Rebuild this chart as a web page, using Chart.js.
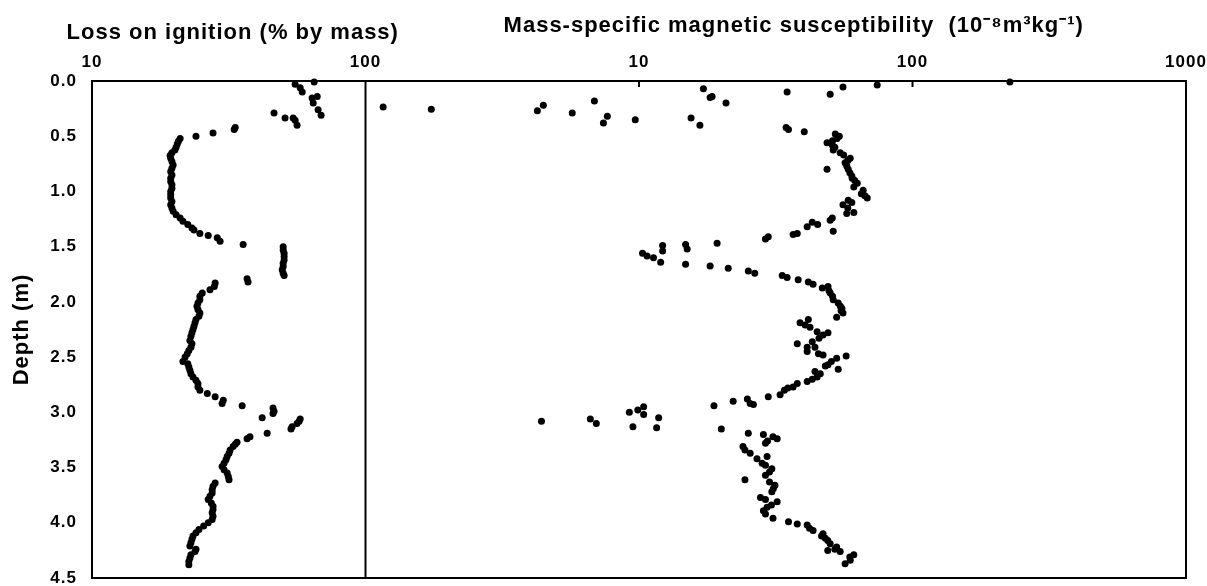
<!DOCTYPE html>
<html><head><meta charset="utf-8">
<script src="https://cdn.jsdelivr.net/npm/chart.js@4.4.1/dist/chart.umd.min.js"></script>
<style>html,body{margin:0;padding:0;background:#fff;overflow:hidden}#wrap{width:1207px;height:586px;position:relative}canvas{display:block}</style>
</head><body><div id="wrap"><canvas id="c" width="1207" height="586"></canvas></div>
<script>
const lossTitle = 'Loss on ignition (% by mass)';
const magTitle = 'Mass-specific magnetic susceptibility  (10\u207B\u2078m\u00B3kg\u207B\u00B9)';
const depthTitle = 'Depth (m)';
const lossTicks = [10, 100];
const magTicks = [10, 100, 1000];
const depthTicks = [0, 0.5, 1, 1.5, 2, 2.5, 3, 3.5, 4, 4.5];

const lossDepth = [0.01,0.03,0.06,0.10,0.14,0.155,0.20,0.26,0.29,0.31,0.335,0.335,0.355,0.40,0.42,0.44,0.47,0.50,0.52,0.545,0.57,0.60,0.625,0.65,0.675,0.70,0.73,0.76,0.79,0.82,0.85,0.88,0.91,0.94,0.97,1.00,1.03,1.06,1.09,1.12,1.15,1.18,1.21,1.24,1.27,1.30,1.33,1.35,1.38,1.40,1.42,1.45,1.48,1.50,1.53,1.56,1.59,1.62,1.65,1.68,1.71,1.74,1.76,1.79,1.82,1.83,1.86,1.89,1.92,1.95,1.98,2.01,2.04,2.07,2.10,2.13,2.16,2.19,2.22,2.25,2.28,2.31,2.35,2.38,2.41,2.44,2.47,2.50,2.54,2.56,2.59,2.62,2.65,2.68,2.71,2.74,2.77,2.80,2.83,2.86,2.89,2.92,2.94,2.96,2.99,3.01,3.05,3.06,3.08,3.10,3.13,3.15,3.19,3.22,3.24,3.27,3.29,3.31,3.34,3.37,3.40,3.43,3.46,3.49,3.52,3.55,3.58,3.61,3.64,3.67,3.70,3.73,3.76,3.79,3.82,3.85,3.88,3.91,3.94,3.97,4.00,4.03,4.06,4.09,4.12,4.15,4.18,4.21,4.24,4.26,4.29,4.32,4.35,4.38];
const lossValue = [64.9,55.3,57.7,58.7,66.6,63.8,64.4,67.1,46.3,68.8,50.8,54.4,55.3,56.2,33.4,33.1,27.7,24.0,21.0,20.7,20.5,20.3,20.1,19.6,19.3,19.4,19.6,19.8,19.6,19.4,19.6,19.4,19.4,19.6,19.6,19.4,19.4,19.4,19.6,19.4,19.6,19.8,20.3,21.0,21.5,22.4,23.2,23.6,24.8,26.6,28.7,29.4,35.7,50.0,50.0,50.4,50.4,50.4,50.0,50.0,49.6,50.0,50.4,36.9,37.2,28.2,28.0,27.0,25.3,24.8,24.8,24.4,24.2,24.4,24.8,24.6,24.0,23.8,23.6,23.4,23.2,23.0,22.8,23.2,23.0,22.6,22.3,21.9,21.5,22.4,22.6,22.8,23.0,23.4,24.0,24.4,24.4,24.8,26.4,28.2,30.2,29.9,35.4,45.9,46.3,45.9,41.9,57.7,57.2,56.2,53.9,53.4,43.7,37.8,36.9,33.9,33.4,32.8,32.0,31.7,31.2,30.9,30.4,29.9,30.4,31.2,31.5,31.7,28.2,27.7,27.5,27.5,27.0,26.6,27.3,27.7,27.7,27.5,27.7,27.5,26.6,25.6,24.6,24.0,23.4,23.2,23.0,22.8,24.0,23.8,23.0,22.8,22.6,22.6];

const magDepth = [0.01,0.036,0.055,0.07,0.10,0.12,0.14,0.15,0.18,0.20,0.22,0.235,0.255,0.27,0.29,0.32,0.335,0.35,0.38,0.40,0.42,0.44,0.46,0.48,0.50,0.52,0.54,0.56,0.58,0.60,0.625,0.65,0.67,0.70,0.72,0.74,0.77,0.80,0.80,0.83,0.86,0.88,0.90,0.925,0.96,0.99,1.02,1.04,1.06,1.08,1.10,1.12,1.15,1.19,1.20,1.24,1.26,1.28,1.30,1.32,1.36,1.38,1.39,1.41,1.43,1.47,1.48,1.49,1.52,1.54,1.56,1.585,1.60,1.64,1.66,1.675,1.695,1.72,1.74,1.76,1.78,1.80,1.82,1.84,1.86,1.875,1.90,1.92,1.95,1.98,2.01,2.04,2.06,2.08,2.10,2.14,2.16,2.19,2.21,2.23,2.27,2.28,2.30,2.33,2.36,2.38,2.41,2.41,2.45,2.47,2.48,2.49,2.51,2.54,2.57,2.58,2.61,2.63,2.65,2.68,2.70,2.72,2.74,2.77,2.78,2.80,2.84,2.86,2.88,2.90,2.92,2.93,2.94,2.95,2.98,3.00,3.02,3.05,3.06,3.08,3.10,3.13,3.14,3.15,3.19,3.20,3.22,3.24,3.26,3.28,3.31,3.34,3.37,3.40,3.42,3.46,3.48,3.51,3.54,3.57,3.61,3.63,3.66,3.69,3.72,3.77,3.79,3.81,3.84,3.86,3.89,3.92,3.96,3.99,4.01,4.02,4.05,4.07,4.10,4.12,4.14,4.16,4.19,4.22,4.24,4.25,4.26,4.29,4.31,4.34,4.37];
const magValue = [227,74.3,55.7,17.2,34.8,50,18.5,18.2,6.87,20.8,4.47,1.16,1.74,4.25,5.7,7.66,15.5,9.69,7.41,16.7,34.5,35.2,40.2,52.2,54,53,51,48.7,50.9,52,51.3,54.4,56,59.2,58,56.7,57.5,58.2,48.7,59,60,60.2,61.5,62.8,61,66,65,67,68.3,58.2,60,55.7,58,61,57.5,50.9,50.0,43,45,41.2,51.3,37.9,36.6,29.7,29,19.3,14.8,12.2,15.0,12.2,10.3,10.7,11.3,12.0,14.8,18.2,21.2,25.1,26.5,33.4,34.8,38.2,41.6,43.3,49.1,46.8,49.5,50,51,51.3,53.5,54.5,55.2,54.8,55.7,52.8,41.6,38.8,40.5,42.2,44.8,49.1,47.1,45.5,43,37.9,41.2,44,41.2,45.3,47.1,57.2,52.8,50.5,49.1,48,53.5,44,46,44.8,43,41.2,37.9,36.6,35,34,32.8,29.7,24.9,22.1,25.5,26.2,18.8,10.4,9.9,9.22,10.4,11.8,6.64,4.4,6.98,9.5,11.6,20,25.1,28.5,30.9,32,29.5,29,24,24.4,25.5,29.4,27,28.2,29,30.6,30,29,24.4,30,31.4,31,30.6,27.8,29,32,30.5,29.4,28.5,29,30.9,35.2,37.9,41.2,42,43.3,47.1,46.5,48,49,50,52.8,52,49,54.4,61,59,59.2,56.7];

const FONT = "Arial, 'Liberation Sans', Helvetica, sans-serif";
Chart.defaults.font.family = FONT;
Chart.defaults.color = '#000';

const lossPts = lossDepth.map((d, i) => ({x: lossValue[i], y: d}));
const magPts = magDepth.map((d, i) => ({x: magValue[i], y: d}));

const framePlugin = {
  id: 'frame',
  beforeDraw(chart) {
    try { chart.ctx.letterSpacing = '1px'; } catch (e) {}
  },
  afterDraw(chart) {
    const {ctx, chartArea: a, scales} = chart;
    ctx.save();
    ctx.strokeStyle = '#000';
    ctx.lineWidth = 2;
    ctx.strokeRect(a.left, a.top, a.right - a.left, a.bottom - a.top);
    const xd = scales.x2.getPixelForValue(1);
    ctx.beginPath();
    ctx.moveTo(xd, a.top); ctx.lineTo(xd, a.bottom);
    for (const v of magTicks) {
      if (v >= 1000) continue;
      const px = scales.x2.getPixelForValue(v);
      ctx.moveTo(px, a.top); ctx.lineTo(px, a.top + 6);
    }
    ctx.stroke();
    ctx.fillStyle = '#000';
    ctx.textAlign = 'center';
    ctx.textBaseline = 'alphabetic';
    try { ctx.letterSpacing = '1px'; } catch (e) {}
    ctx.font = 'bold 22px ' + FONT;
    const l = scales.x1, r = scales.x2;
    ctx.fillText(lossTitle, (l.left + l.right) / 2 + 4, 39);
    ctx.fillText(magTitle, (r.left + r.right) / 2 + 18, 32);
    ctx.restore();
  }
};

function fixTicks(values) {
  return function (scale) { scale.ticks = values.map(v => ({value: v})); };
}

new Chart(document.getElementById('c'), {
  type: 'scatter',
  data: {
    datasets: [
      {label: 'LOI', data: lossPts, xAxisID: 'x1', yAxisID: 'y', pointRadius: 3.5, pointBackgroundColor: '#000', pointBorderWidth: 0, pointBorderColor: '#000', clip: false},
      {label: 'MS', data: magPts, xAxisID: 'x2', yAxisID: 'y', pointRadius: 3.5, pointBackgroundColor: '#000', pointBorderWidth: 0, pointBorderColor: '#000', clip: false}
    ]
  },
  options: {
    responsive: false,
    animation: false,
    devicePixelRatio: 1,
    layout: {padding: {top: 0, left: 0, right: 21, bottom: 8}},
    plugins: {legend: {display: false}, tooltip: {enabled: false}},
    scales: {
      y: {
        type: 'linear', position: 'left', reverse: true, min: 0, max: 4.5,
        afterBuildTicks: fixTicks(depthTicks),
        afterFit(s) { s.width = 92; s.paddingTop = 0; s.paddingBottom = 0; },
        grid: {display: false, drawTicks: false}, border: {display: false},
        ticks: {autoSkip: false, padding: 15, font: {size: 17, weight: 'bold'}, callback: v => Number(v).toFixed(1)},
        title: {display: true, text: depthTitle, font: {size: 22, weight: 'bold'}, padding: {top: 9, bottom: 0}}
      },
      x1: {
        type: 'logarithmic', position: 'top', min: 10, max: 100, stack: 'top', stackWeight: 1, weight: 1,
        afterBuildTicks: fixTicks(lossTicks),
        afterFit(s) { s.height = 81; s.paddingLeft = 0; s.paddingRight = 0; },
        grid: {display: false, drawTicks: false}, border: {display: false},
        ticks: {autoSkip: false, maxRotation: 0, padding: 8, font: {size: 17, weight: 'bold'}, callback: v => String(v)}
      },
      x2: {
        type: 'logarithmic', position: 'top', min: 1, max: 1000, stack: 'top', stackWeight: 3, weight: 0,
        afterBuildTicks: fixTicks(magTicks),
        afterFit(s) { s.height = 81; s.paddingLeft = 0; s.paddingRight = 0; },
        grid: {display: false, drawTicks: false}, border: {display: false},
        ticks: {autoSkip: false, maxRotation: 0, padding: 8, font: {size: 17, weight: 'bold'}, callback: v => String(v)}
      }
    }
  },
  plugins: [framePlugin]
});
</script></body></html>
